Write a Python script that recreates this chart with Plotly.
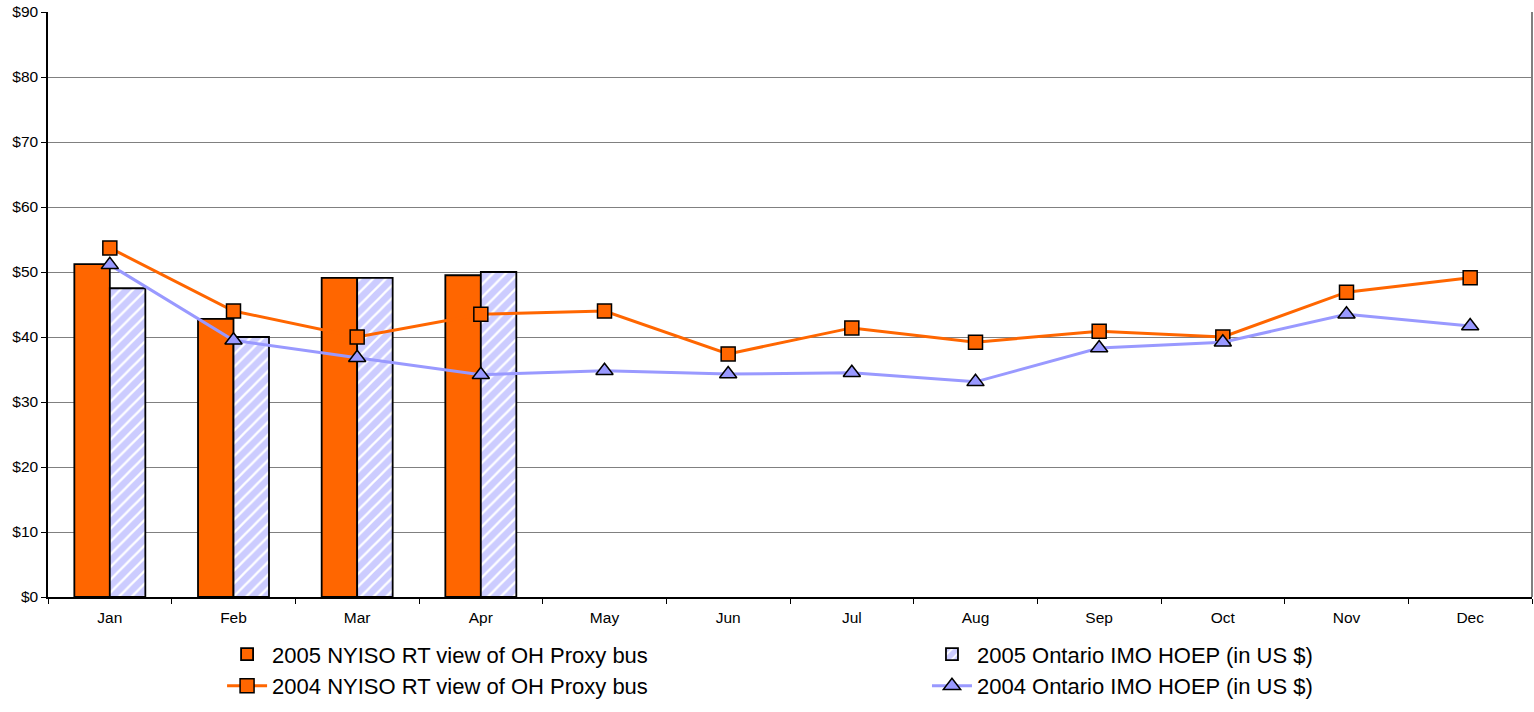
import plotly.graph_objects as go

months = ["Jan", "Feb", "Mar", "Apr", "May", "Jun", "Jul", "Aug", "Sep", "Oct", "Nov", "Dec"]
nyiso_2005 = [51.2, 42.8, 49.1, 49.5]
ontario_2005 = [47.5, 40.0, 49.1, 50.0]
nyiso_2004 = [53.7, 44.0, 40.0, 43.5, 44.0, 37.4, 41.4, 39.2, 40.9, 40.0, 46.9, 49.1]
ontario_2004 = [51.1, 39.5, 36.8, 34.2, 34.8, 34.3, 34.5, 33.1, 38.3, 39.2, 43.5, 41.7]

ORANGE = "#FF6600"
LAV = "#9999FF"
FONT = "Arial, Liberation Sans, sans-serif"

fig = go.Figure()
fig.add_trace(go.Bar(
    x=months[:len(nyiso_2005)], y=nyiso_2005, name="2005 NYISO RT view of OH Proxy bus",
    marker=dict(color=ORANGE, line=dict(color="black", width=1.8)),
    legend="legend", legendgroup="a",
))
fig.add_trace(go.Bar(
    x=months[:len(ontario_2005)], y=ontario_2005, name="2005 Ontario IMO HOEP (in US $)",
    marker=dict(color="white", line=dict(color="black", width=1.8),
                pattern=dict(shape="/", fgcolor=LAV, bgcolor="white", size=9, solidity=0.75)),
    legend="legend2", legendgroup="b",
))
fig.add_trace(go.Scatter(
    x=months, y=nyiso_2004, name="2004 NYISO RT view of OH Proxy bus", mode="lines+markers",
    line=dict(color=ORANGE, width=3),
    marker=dict(symbol="square", size=14, color=ORANGE, line=dict(color="black", width=1.5)),
    legend="legend", legendgroup="c",
))
fig.add_trace(go.Scatter(
    x=months, y=ontario_2004, name="2004 Ontario IMO HOEP (in US $)", mode="lines+markers",
    line=dict(color=LAV, width=3),
    marker=dict(symbol="triangle-up", size=15, color=LAV, line=dict(color="black", width=1.5)),
    legend="legend2", legendgroup="d",
))

legend_common = dict(orientation="v", yanchor="top", xanchor="left", y=-0.062,
                     font=dict(size=22, family=FONT), itemwidth=40,
                     tracegroupgap=2, traceorder="normal", bgcolor="rgba(0,0,0,0)")

fig.update_layout(
    width=1534, height=712,
    margin=dict(l=48, r=2, t=12, b=115, autoexpand=False),
    paper_bgcolor="white", plot_bgcolor="white",
    font=dict(family=FONT, color="black", size=15.5),
    barmode="group", bargap=0.426, bargroupgap=0,
    showlegend=True,
    legend=dict(x=0.1173, **legend_common),
    legend2=dict(x=0.5923, **legend_common),
    shapes=[dict(type="line", xref="paper", yref="paper", x0=1, x1=1, y0=0, y1=1,
                 line=dict(color="#808080", width=2))],
)
fig.update_xaxes(
    type="category", categoryorder="array", categoryarray=months,
    range=[-0.5, 11.5],
    showline=True, linecolor="black", linewidth=1.5,
    ticks="outside", tickson="boundaries", ticklen=5, tickcolor="black",
    showgrid=False, tickfont=dict(size=15.5), ticklabelstandoff=6,
)
fig.update_yaxes(
    range=[0, 90], dtick=10, tickprefix="$",
    showline=True, linecolor="black", linewidth=1.5,
    ticks="outside", ticklen=5, tickcolor="black",
    showgrid=True, gridcolor="#808080", gridwidth=1,
    zeroline=False, tickfont=dict(size=15.5),
)

fig.write_html("out.html", config={"displayModeBar": False},
               post_script="document.body.style.margin='0';document.body.style.overflow='hidden';")
